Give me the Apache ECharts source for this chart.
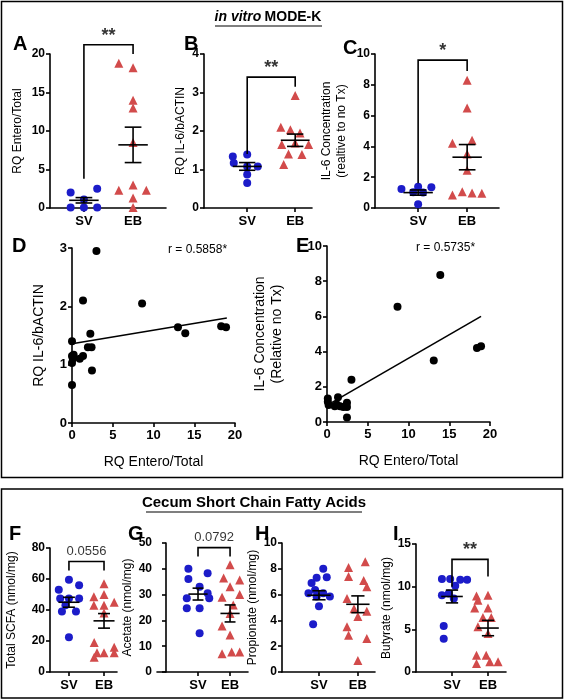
<!DOCTYPE html>
<html>
<head>
<meta charset="utf-8">
<script src="https://cdn.jsdelivr.net/npm/echarts@6/dist/echarts.min.js"></script>
<style>html,body{margin:0;padding:0;background:#fff}#main{width:564px;height:700px}</style>
</head>
<body>
<div id="main"></div>
<script>
// dot plots: values + horizontal jitter (in group units)
var svA = [2.0, 0.05, 1.1, 0.05, 2.5, 0.05], svAj = [-0.27, -0.27, 0, 0, 0.27, 0.27];
var ebA = [18.8, 18.2, 14.0, 13.0, 8.5, 3.0, 2.3, 2.3, 1.3, 0.05], ebAj = [-0.29, 0, 0, 0, 0, 0, -0.29, 0.27, 0, 0];
var svB = [1.34, 1.39, 1.17, 1.08, 1.08, 0.87, 0.65], svBj = [-0.3, 0, -0.28, 0, 0.22, 0, 0];
var ebB = [2.92, 2.1, 2.03, 1.95, 1.65, 1.69, 1.65, 1.40, 1.39, 1.13], ebBj = [0, -0.3, -0.1, 0.1, -0.28, 0, 0.28, -0.14, 0.14, -0.24];
var svC = [1.23, 1.38, 1.34, 1.02, 1.0, 0.25], svCj = [-0.34, 0, 0.27, -0.1, 0.1, 0];
var ebC = [8.3, 6.5, 4.2, 4.4, 3.5, 2.45, 0.85, 1.05, 0.97, 0.95], ebCj = [0, 0, -0.3, 0.1, 0, 0, -0.3, -0.1, 0.1, 0.3];
var svF = [59.5, 56, 53, 47.5, 47.5, 47.5, 43, 39, 39, 22.5], svFj = [0, 0.29, -0.29, 0, 0.29, -0.25, -0.1, -0.2, 0.2, 0];
var ebF = [57, 48.5, 50, 45, 43, 43, 38, 19, 16, 12.5, 12.5, 12.5, 9.5], ebFj = [0, -0.29, 0, 0.29, -0.29, 0, 0, -0.28, 0.29, -0.2, 0, 0.29, -0.28];
var svG = [40, 38.3, 36, 33, 30.5, 28.6, 28.6, 24.7, 24.7, 15], svGj = [-0.3, 0.3, -0.3, 0.05, 0.3, -0.35, 0.35, -0.35, 0.05, 0.05];
var ebG = [41.6, 36.4, 35.7, 33, 30, 29, 26, 22.7, 17.8, 14.3, 7.1, 7.8, 7.8], ebGj = [0, -0.2, 0.3, 0, 0.3, -0.25, 0.1, 0, -0.25, 0, -0.25, 0.05, 0.3];
var svH = [8.0, 7.3, 7.35, 6.9, 6.35, 6.1, 6.1, 5.85, 5.85, 5.1, 3.7], svHj = [0.11, -0.06, 0.2, -0.19, -0.1, -0.27, 0.11, -0.06, 0.28, 0, -0.15];
var ebH = [8.55, 8.1, 7.1, 7.4, 6.6, 5.7, 4.9, 4.7, 4.3, 3.5, 2.85, 2.6, 0.9], ebHj = [0.19, -0.24, 0.15, -0.24, 0.23, -0.28, -0.1, 0.23, 0, -0.28, -0.24, 0.23, 0];
var svI = [10.9, 10.9, 10.8, 10.8, 10.1, 9.2, 9.0, 8.6, 5.4, 3.9], svIj = [-0.28, -0.05, 0.23, 0.42, 0.09, -0.09, -0.28, 0.05, -0.23, -0.23];
var ebI = [9.0, 8.9, 8.4, 7.5, 7.5, 6.4, 6.4, 5.3, 4.5, 1.95, 1.95, 1.0, 1.2, 1.2], ebIj = [0, -0.32, -0.28, -0.37, 0, 0.09, -0.14, -0.28, 0, -0.32, -0.05, -0.32, 0.05, 0.28];

// mean, sem  [SV, EB]
var meanA = [1.0, 8.2], semA = [0.35, 2.3];
var meanB = [1.08, 1.76], semB = [0.1, 0.16];
var meanC = [1.0, 3.3], semC = [0.17, 0.82];
var meanF = [45, 33], semF = [3.2, 4.7];
var meanG = [30.2, 22.7], semG = [2.3, 3.3];
var meanH = [5.95, 5.25], semH = [0.35, 0.65];
var meanI = [8.85, 5.15], semI = [0.75, 0.9];

// brackets: left leg bottom, top, right leg bottom, label
var brA = [3.8, 21.2, 20.0, '**'];
var brB = [1.4, 3.4, 3.15, '**'];
var brC = [1.6, 9.6, 8.9, '*'];
var brF = [65.5, 71.3, 65.5, '0.0556'];
var brG = [44.8, 48.2, 44.8, '0.0792'];
var brI = [10.0, 13.2, 11.2, '**'];

// correlations
var dX = [3.0, 1.35, 8.6, 13.0, 13.9, 18.3, 18.9, 2.25, 1.95, 2.4, 1.35, 0.95, 0, 0, 0.1, 0, 2.45, 0, 0.2];
var dY = [2.95, 2.1, 2.05, 1.64, 1.54, 1.66, 1.64, 1.53, 1.30, 1.30, 1.15, 1.10, 1.40, 1.15, 1.1, 1.03, 0.9, 0.65, 1.17];
var dFit = [[0, 1.36], [19, 1.8]];
var eX = [3.0, 8.65, 13.9, 13.1, 18.4, 18.9, 1.35, 0.1, 0.1, 0.2, 0.95, 1.6, 2.0, 2.45, 2.45, 2.45, 1.2];
var eY = [2.4, 6.55, 8.35, 3.5, 4.2, 4.3, 1.4, 1.33, 1.15, 0.97, 0.9, 0.9, 0.85, 1.1, 0.85, 0.25, 1.0];
var eFit = [[0.2, 1.0], [18.9, 6.0]];

var groups = ['SV', 'EB'];
var BLUE = '#1c1cc9', RED = '#d24b4b', FONT = 'Liberation Sans';

var grids = [], xAxes = [], yAxes = [], series = [];
var axisLine = { show: true, lineStyle: { color: '#000', width: 1.6 } };
var axisTick = { show: true, length: 4, lineStyle: { color: '#000', width: 1.6 } };

function pts(vals, jit, c) {
  return vals.map(function (v, i) { return [c + jit[i], v]; });
}

function dotPanel(p) {
  var g = grids.length;
  grids.push({ left: p.l, top: p.t, width: p.r - p.l, height: p.b - p.t });
  xAxes.push({
    type: 'value', gridIndex: g, min: p.xmin, max: p.xmax,
    axisLine: axisLine, splitLine: { show: false },
    axisTick: { show: true, length: 4, lineStyle: { color: '#000', width: 1.6 }, customValues: [1, 2] },
    axisLabel: { customValues: [1, 2], formatter: function (v) { return groups[Math.round(v) - 1]; }, color: '#000', fontWeight: 'bold', fontSize: 13, fontFamily: FONT, margin: 7 }
  });
  yAxes.push({
    type: 'value', gridIndex: g, min: 0, max: p.ymax, interval: p.step,
    name: p.name, nameLocation: 'middle', nameGap: p.gap,
    nameTextStyle: { color: '#000', fontSize: p.nameSize || 12, fontFamily: FONT, lineHeight: 15 },
    axisLine: axisLine, axisTick: axisTick, splitLine: { show: false },
    axisLabel: { color: '#000', fontWeight: 'bold', fontSize: 12, fontFamily: FONT, margin: 5 }
  });
  series.push({ type: 'scatter', xAxisIndex: g, yAxisIndex: g, symbol: 'circle', symbolSize: 8, itemStyle: { color: BLUE, opacity: 1 }, data: pts(p.sv, p.svj, 1), z: 3, clip: false });
  series.push({ type: 'scatter', xAxisIndex: g, yAxisIndex: g, symbol: 'triangle', symbolSize: 9, itemStyle: { color: RED, opacity: 1 }, data: pts(p.eb, p.ebj, 2), z: 3, clip: false });
  var segs = [];
  [0, 1].forEach(function (k) {
    var c = k + 1, m = p.mean[k], s = p.sem[k];
    segs.push({ coords: [[c - 0.3, m], [c + 0.3, m]] });
    segs.push({ coords: [[c, m - s], [c, m + s]] });
    segs.push({ coords: [[c - 0.17, m - s], [c + 0.17, m - s]] });
    segs.push({ coords: [[c - 0.17, m + s], [c + 0.17, m + s]] });
  });
  if (p.br) {
    var star = p.br[3].indexOf('*') >= 0;
    segs.push({ coords: [[1, p.br[0]], [1, p.br[1]], [2, p.br[1]], [2, p.br[2]]] });
    series.push({
      type: 'scatter', xAxisIndex: g, yAxisIndex: g, symbolSize: 0, clip: false, silent: true,
      data: [[1.5, p.br[1]]],
      label: { show: true, position: 'top', distance: star ? 0 : 4, formatter: p.br[3], color: '#000', fontFamily: FONT, fontSize: star ? 18 : 13, fontWeight: star ? 'bold' : 'normal' }
    });
  }
  series.push({ type: 'lines', coordinateSystem: 'cartesian2d', xAxisIndex: g, yAxisIndex: g, polyline: true, clip: false, silent: true, lineStyle: { color: '#000', width: 1.6, opacity: 1 }, data: segs, z: 4 });
}

function corrPanel(p) {
  var g = grids.length;
  grids.push({ left: p.l, top: p.t, width: p.r - p.l, height: p.b - p.t });
  xAxes.push({
    type: 'value', gridIndex: g, min: 0, max: 20, interval: 5,
    name: 'RQ Entero/Total', nameLocation: 'middle', nameGap: 32,
    nameTextStyle: { color: '#000', fontSize: 14, fontFamily: FONT },
    axisLine: axisLine, axisTick: axisTick, splitLine: { show: false },
    axisLabel: { color: '#000', fontWeight: 'bold', fontSize: 13, fontFamily: FONT, margin: 6 }
  });
  yAxes.push({
    type: 'value', gridIndex: g, min: 0, max: p.ymax, interval: p.step,
    name: p.name, nameLocation: 'middle', nameGap: p.gap,
    nameTextStyle: { color: '#000', fontSize: 14, fontFamily: FONT, lineHeight: 17 },
    axisLine: axisLine, axisTick: axisTick, splitLine: { show: false },
    axisLabel: { color: '#000', fontWeight: 'bold', fontSize: 13, fontFamily: FONT, margin: 5 }
  });
  series.push({ type: 'scatter', xAxisIndex: g, yAxisIndex: g, symbolSize: 8, itemStyle: { color: '#000', opacity: 1 }, clip: false,
    data: p.x.map(function (v, i) { return [v, p.y[i]]; }) });
  series.push({ type: 'lines', coordinateSystem: 'cartesian2d', xAxisIndex: g, yAxisIndex: g, silent: true, lineStyle: { color: '#000', width: 1.6, opacity: 1 }, data: [{ coords: p.fit }] });
}

dotPanel({ l: 50, r: 166, t: 54, b: 208, xmin: 0.31, xmax: 2.67, ymax: 20, step: 5, name: 'RQ Entero/Total', gap: 25, sv: svA, svj: svAj, eb: ebA, ebj: ebAj, mean: meanA, sem: semA, br: brA });
dotPanel({ l: 204, r: 312, t: 54, b: 208, xmin: 0.1, xmax: 2.35, ymax: 4, step: 1, name: 'RQ IL-6/bACTIN', gap: 16, sv: svB, svj: svBj, eb: ebB, ebj: ebBj, mean: meanB, sem: semB, br: brB });
dotPanel({ l: 375, r: 499, t: 54, b: 208, xmin: 0.12, xmax: 2.65, ymax: 10, step: 2, name: 'IL-6 Concentration\n(realtive to no Tx)', gap: 26, sv: svC, svj: svCj, eb: ebC, ebj: ebCj, mean: meanC, sem: semC, br: brC });
corrPanel({ l: 72, r: 235, t: 248, b: 423, ymax: 3, step: 1, name: 'RQ IL-6/bACTIN', gap: 24, x: dX, y: dY, fit: dFit });
corrPanel({ l: 327, r: 490, t: 246, b: 422, ymax: 10, step: 2, name: 'IL-6 Concentration\n(Relative no Tx)', gap: 41, x: eX, y: eY, fit: eFit });
dotPanel({ l: 50, r: 117, t: 548, b: 672, xmin: 0.46, xmax: 2.37, ymax: 80, step: 20, name: 'Total SCFA (nmol/mg)', gap: 31, sv: svF, svj: svFj, eb: ebF, ebj: ebFj, mean: meanF, sem: semF, br: brF });
dotPanel({ l: 157, r: 248, t: 543, b: 672, xmin: -0.28, xmax: 2.56, ymax: 50, step: 10, name: 'Acetate (nmol/mg)', gap: 19, sv: svG, svj: svGj, eb: ebG, ebj: ebGj, mean: meanG, sem: semG, br: brG });
dotPanel({ l: 282, r: 375, t: 543, b: 672, xmin: 0.05, xmax: 2.44, ymax: 10, step: 2, name: 'Propionate (nmol/mg)', gap: 14, sv: svH, svj: svHj, eb: ebH, ebj: ebHj, mean: meanH, sem: semH });
dotPanel({ l: 416, r: 506, t: 544, b: 672, xmin: 0, xmax: 2.5, ymax: 15, step: 5, name: 'Butyrate (nmol/mg)', gap: 16, sv: svI, svj: svIj, eb: ebI, ebj: ebIj, mean: meanI, sem: semI, br: brI });

function letter(t, x, y) {
  return { type: 'text', left: x, top: y, style: { text: t, font: 'bold 20px "Liberation Sans"', fill: '#000' } };
}

var chart = echarts.init(document.getElementById('main'));
chart.setOption({
  animation: false,
  grid: grids, xAxis: xAxes, yAxis: yAxes, series: series,
  graphic: [
    { type: 'rect', shape: { x: 1.5, y: 1.5, width: 561, height: 476 }, style: { fill: 'none', stroke: '#000', lineWidth: 1.5 } },
    { type: 'rect', shape: { x: 1.5, y: 489, width: 561, height: 209 }, style: { fill: 'none', stroke: '#000', lineWidth: 1.5 } },
    { type: 'text', x: 268, y: 17, style: { text: '{i|in vitro} {b|MODE-K}', align: 'center', verticalAlign: 'middle', rich: {
      i: { font: 'italic bold 14px "Liberation Sans"', fill: '#000' }, b: { font: 'bold 14px "Liberation Sans"', fill: '#000' } } } },
    { type: 'line', shape: { x1: 215, y1: 26, x2: 322, y2: 26 }, style: { stroke: '#000', lineWidth: 1.2 } },
    { type: 'text', x: 254, y: 503, style: { text: 'Cecum Short Chain Fatty Acids', align: 'center', verticalAlign: 'middle', font: 'bold 15px "Liberation Sans"', fill: '#000' } },
    { type: 'line', shape: { x1: 146, y1: 512, x2: 362, y2: 512 }, style: { stroke: '#000', lineWidth: 1.2 } },
    letter('A', 13, 34), letter('B', 184, 34), letter('C', 343, 38),
    letter('D', 12, 236), letter('E', 296, 236),
    letter('F', 9, 524), letter('G', 128, 524), letter('H', 255, 524), letter('I', 393, 524),
    { type: 'text', left: 168, top: 244, style: { text: 'r = 0.5858*', font: '12px "Liberation Sans"', fill: '#000' } },
    { type: 'text', left: 416, top: 242, style: { text: 'r = 0.5735*', font: '12px "Liberation Sans"', fill: '#000' } }
  ]
});
</script>
</body>
</html>
